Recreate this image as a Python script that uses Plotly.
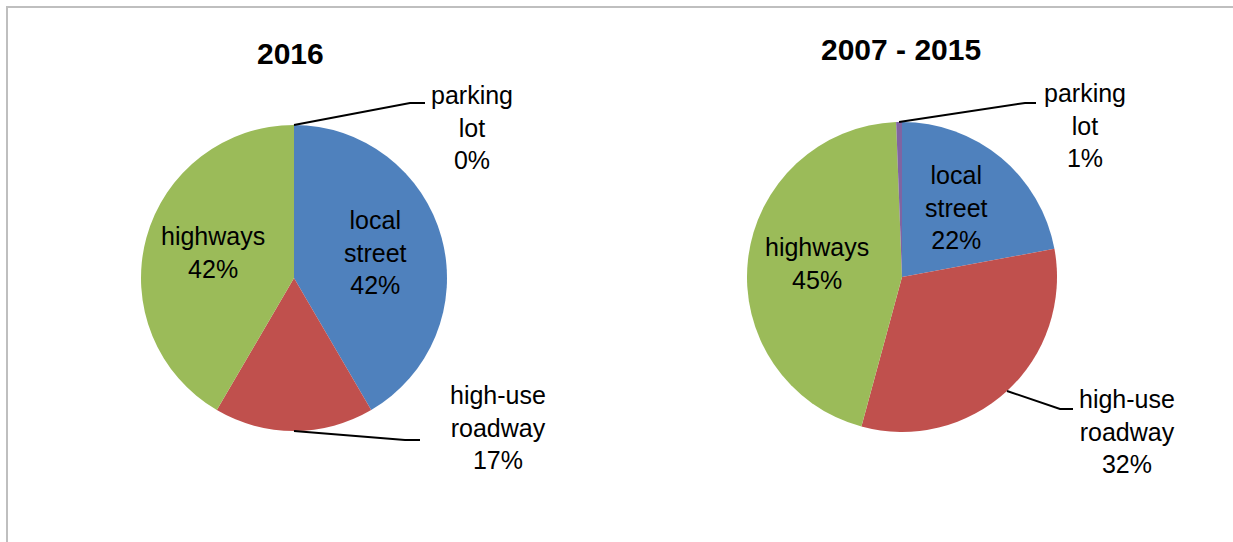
import math
import plotly.graph_objects as go

# ---- data ----
categories = ["local street", "high-use roadway", "highways", "parking lot"]
label_lines = ["local<br>street", "high-use<br>roadway", "highways", "parking<br>lot"]
values_2016 = [42, 17, 42, 0]
values_2007_2015 = [22, 32, 45, 0.6]
titles = ["2016", "2007 - 2015"]
colors = ["#4F81BD", "#C0504D", "#9BBB59", "#8064A2"]
inside_idx = [0, 2]      # labels drawn inside the slices
outside_idx = [1, 3]     # labels drawn outside with leader lines

W, H = 1233, 542
FONT = "Liberation Sans, Arial, sans-serif"


def px(x):
    return x / W


def py(y):
    return 1 - y / H


# pie geometry (layout) : centre and radius in pixels
pies = [
    dict(vals=values_2016, cx=294, cy=278, r=153, title_xy=(290, 53),
         out_text={1: (498, 427), 3: (472, 127)},
         out_elbow={1: (405, 440, 420), 3: (410, 103, 425)}),
    dict(vals=values_2007_2015, cx=902, cy=277, r=155, title_xy=(901, 49),
         out_text={1: (1127, 431), 3: (1085, 126)},
         out_elbow={1: (1060, 409, 1073), 3: (1025, 103, 1036)}),
]

fig = go.Figure()
annotations = []
shapes = [dict(type="path", xref="paper", yref="paper",
               path=f"M {px(7)} 0 L {px(7)} {py(7)} L 1.01 {py(7)}",
               line=dict(color="#BFBFBF", width=2))]


def mid_angle(vals, i):
    tot = sum(vals)
    start = sum(vals[:i]) / tot * 360
    return start + vals[i] / tot * 360 / 2


def pct(vals, i):
    return f"{round(vals[i] / sum(vals) * 100)}%"


def label(text, x, y, size, bold=False):
    return dict(text=f"<b>{text}</b>" if bold else text, x=px(x), y=py(y),
                xref="paper", yref="paper", xanchor="center", yanchor="middle",
                showarrow=False, align="center",
                font=dict(size=size, color="black", family=FONT))


for p, title in zip(pies, titles):
    cx, cy, r, vals = p["cx"], p["cy"], p["r"], p["vals"]
    fig.add_trace(go.Pie(
        labels=categories, values=vals, sort=False, direction="clockwise",
        rotation=0, marker=dict(colors=colors, line=dict(width=0)),
        textinfo="none", hoverinfo="label+percent", showlegend=False,
        domain=dict(x=[px(cx - r), px(cx + r)], y=[py(cy + r), py(cy - r)]),
    ))
    tx, ty = p["title_xy"]
    annotations.append(label(title, tx, ty, 30, bold=True))
    for i in inside_idx:
        a = math.radians(mid_angle(vals, i))
        lx = cx + 0.55 * r * math.sin(a)
        ly = cy - 0.55 * r * math.cos(a) - 4
        annotations.append(label(f"{label_lines[i]}<br>{pct(vals, i)}", lx, ly, 25))
    for i in outside_idx:
        a = math.radians(mid_angle(vals, i))
        ex = cx + r * math.sin(a)
        ey = cy - r * math.cos(a)
        bx, by, hx = p["out_elbow"][i]
        shapes.append(dict(type="path", xref="paper", yref="paper",
                           path=f"M {px(ex)} {py(ey)} L {px(bx)} {py(by)} L {px(hx)} {py(by)}",
                           line=dict(color="black", width=2)))
        tx2, ty2 = p["out_text"][i]
        annotations.append(label(f"{label_lines[i]}<br>{pct(vals, i)}", tx2, ty2, 25))

fig.update_layout(
    width=W, height=H, margin=dict(l=0, r=0, t=0, b=0),
    paper_bgcolor="white", plot_bgcolor="white",
    annotations=annotations, shapes=shapes,
    font=dict(family=FONT),
)
fig.write_html("out.html", config={"displayModeBar": False},
               post_script="document.body.style.margin='0px';document.body.style.overflow='hidden';")
